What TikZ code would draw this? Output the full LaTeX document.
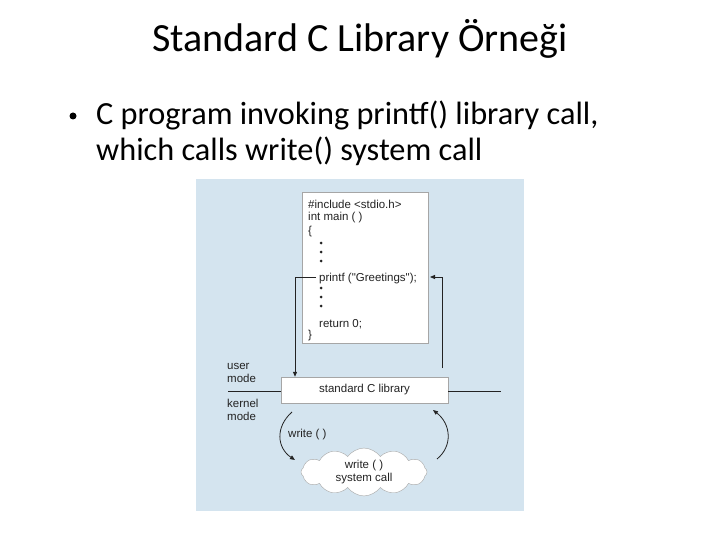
\documentclass[tikz,border=0pt]{standalone}
\usepackage{fontspec}
\setmainfont{Carlito}
\newfontfamily\armfont{Liberation Sans}
\usetikzlibrary{arrows.meta,shapes.symbols}
\definecolor{panelblue}{RGB}{212,228,239}
\definecolor{ink}{RGB}{35,35,35}
\tikzset{
  x=1pt,y=-1pt,
  codetxt/.style={font=\armfont\fontsize{11.5}{13}\selectfont,text=ink,anchor=base west,inner sep=1pt},
  lbl/.style={font=\armfont\fontsize{11.5}{12.5}\selectfont,text=ink,inner sep=1pt},
  wire/.style={draw=ink,line width=0.8pt},
  tip/.style={-{Triangle[length=5pt,width=4pt]}},
  dotc/.style={circle,fill=ink,inner sep=0pt,minimum size=3pt},
}
\begin{document}
\begin{tikzpicture}
\useasboundingbox (0,0) rectangle (720,540);
\fill[white] (0,0) rectangle (720,540);
% title and bullet
\node[font=\fontsize{40}{44}\selectfont,anchor=base] (title) at (360,52) {Standard C Library Örneği};
\node[circle,fill=black,inner sep=0pt,minimum size=7pt] (bul) at (73,116) {};
\node[font=\fontsize{32.3}{37}\selectfont,anchor=base west,inner sep=0pt] (l1) at (96,125) {C program invoking printf() library call,};
\node[font=\fontsize{32.3}{37}\selectfont,anchor=base west,inner sep=0pt] (l2) at (96,161) {which calls write() system call};
% panel
\fill[panelblue] (196,179) rectangle (524,511);
% code box
\node[draw=gray!70,fill=white,minimum width=126pt,minimum height=151pt,inner sep=0pt] (code) at (365,268) {};
\node[codetxt] (c1) at (307,209) {\#include <stdio.h>};
\node[codetxt] (c2) at (307,221) {int main ( )};
\node[codetxt] (c3) at (307,234) {\{};
\node[dotc] (d1) at (321,243) {};
\node[dotc] (d2) at (321,252) {};
\node[dotc] (d3) at (321,261) {};
\node[codetxt] (printf) at (318,281) {printf ("Greetings");};
\node[dotc] (d4) at (321,288) {};
\node[dotc] (d5) at (321,297) {};
\node[dotc] (d6) at (321,306) {};
\node[codetxt] (ret) at (318,327) {return 0;};
\node[codetxt] (c9) at (307,338) {\}};
% library box
\node[draw=gray!70,fill=white,minimum width=167pt,minimum height=26pt,inner sep=0pt,lbl] (lib) at (364.5,390) {standard C library};
% mode line
\coordinate (mlL) at (228,391);
\coordinate (mlR) at (501,391);
\draw[wire] (mlL) -- (lib.west |- mlL);
\draw[wire] (lib.east |- mlR) -- (mlR);
\node[lbl,anchor=west,align=left] (um) at (226,373) {user\\mode};
\node[lbl,anchor=west,align=left] (km) at (226,410) {kernel\\mode};
% printf arrows
\coordinate (lcorner) at (295,277);
\draw[wire,tip] ([xshift=-2pt]printf.west |- lcorner) -- (lcorner) -- (lcorner |- lib.north);
\coordinate (rbot) at (442,368);
\draw[wire,tip] (rbot) -- (442,277) -- (430,277);
% cloud
\node[cloud,cloud puffs=12,cloud puff arc=110,aspect=2.8,draw=gray!70,fill=white,minimum width=126pt,minimum height=46pt,inner sep=0pt,lbl,align=center] (cloud) at (364,472) {write ( )\\system call};
\node[lbl,anchor=west] (wr) at (287,435) {write ( )};
% arcs
\draw[wire,tip] (292,412) .. controls (275,427) and (277,448) .. (295,460);
\draw[wire,tip] (437,459) .. controls (453,446) and (451,424) .. (433,410);
\end{tikzpicture}
\end{document}
